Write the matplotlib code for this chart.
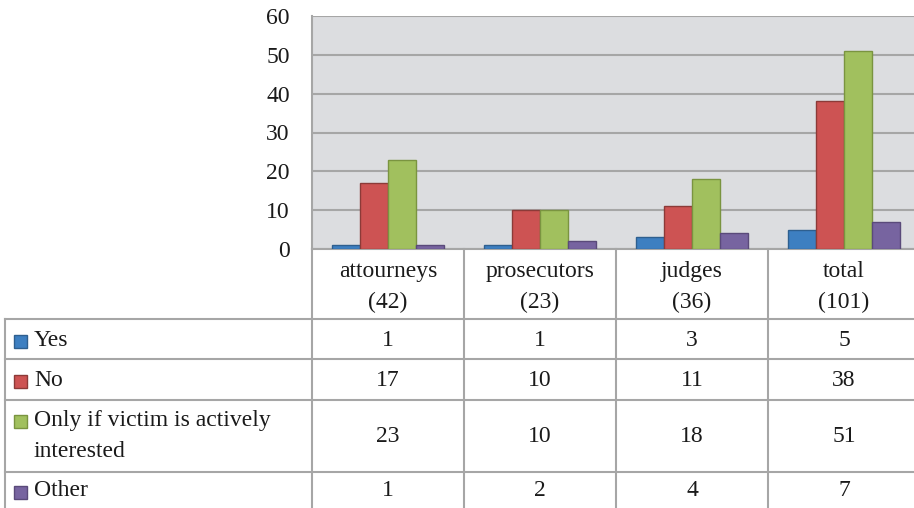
import matplotlib.pyplot as plt
from matplotlib.patches import Rectangle
import numpy as np

plt.rcParams['font.family'] = ['Liberation Serif', 'DejaVu Serif']

groups = ["attourneys\n(42)", "prosecutors\n(23)", "judges\n(36)", "total\n(101)"]
series = ["Yes", "No", "Only if victim is actively\ninterested", "Other"]
yes = [1, 1, 3, 5]
no = [17, 10, 11, 38]
only_if = [23, 10, 18, 51]
other = [1, 2, 4, 7]
values = [yes, no, only_if, other]

colors = ["#3d7fc1", "#cd5353", "#a1c05e", "#7764a0"]
edges = ["#2e5f8f", "#8c3a38", "#7a9440", "#5a4a7a"]
line_col = "#a6a6a6"
txt_col = "#1a1a1a"
fs = 17

W, H = 914, 508
fig = plt.figure(figsize=(W / 100, H / 100), dpi=100)

# chart area, pixel coords of the reference
x0, x1, ytop, ybot = 312, 914, 16, 249
colw = 152
ax = fig.add_axes([x0 / W, 1 - ybot / H, (x1 - x0) / W, (ybot - ytop) / H])
ax.set_facecolor("#dcdde0")

x = np.arange(len(groups))
bw = 0.183
for i, vals in enumerate(values):
    ax.bar(x + (i - 1.5) * bw, vals, bw, color=colors[i], edgecolor=edges[i],
           linewidth=1, zorder=3)

ax.set_xlim(-0.5, -0.5 + (x1 - x0) / colw)
ax.set_ylim(0, 60)
ax.set_yticks(range(0, 61, 10))
ax.set_xticks([])
ax.tick_params(axis="y", length=0, pad=16, labelsize=fs, labelcolor=txt_col)
ax.yaxis.grid(True, color=line_col, linewidth=1.5, zorder=1)
for s in ["right", "top"]:
    ax.spines[s].set_visible(False)
for s in ["left", "bottom"]:
    ax.spines[s].set_color(line_col)
    ax.spines[s].set_linewidth(1.5)

# data table below the chart
tb = fig.add_axes([0, 0, 1, 1], facecolor="none")
tb.set_xlim(0, W)
tb.set_ylim(H, 0)
tb.axis("off")

row_lines = [319, 359, 400, 472]
col_x = [x0 + k * colw for k in range(len(groups) + 1)]
for y in row_lines:
    tb.plot([5, W], [y, y], color=line_col, lw=1.5)
tb.plot([5, 5], [319, H], color=line_col, lw=1.5)
for cx in col_x[:-1]:
    tb.plot([cx, cx], [ybot, H], color=line_col, lw=1.5)

centers = [cx + colw / 2 for cx in col_x[:-1]]
for cx, g in zip(centers, groups):
    tb.text(cx, 287, g, ha="center", va="center", fontsize=fs, linespacing=1.65,
            color=txt_col)

row_c = [340, 380, 436, 491]
first_line = [341, 381, 421, 492]
for r, (name, vals) in enumerate(zip(series, values)):
    tb.add_patch(Rectangle((14, first_line[r] - 6.5), 13, 13, facecolor=colors[r],
                           edgecolor=edges[r], lw=1))
    tb.text(34, row_c[r], name, ha="left", va="center", fontsize=fs,
            linespacing=1.6, color=txt_col)
    for cx, v in zip(centers, vals):
        tb.text(cx, row_c[r], str(v), ha="center", va="center", fontsize=fs,
                color=txt_col)

fig.savefig("out.png", dpi=100)
